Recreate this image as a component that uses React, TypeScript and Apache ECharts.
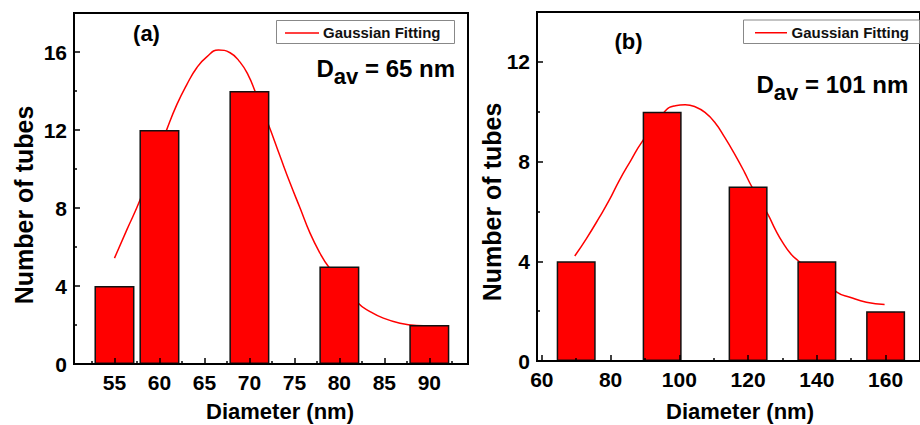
import React, { useEffect, useRef } from "react";
import * as echarts from "echarts";

// ---- Panel (a) ----
const aBarDiameter = [55, 60, 70, 80, 90];
const aBarCount = [4, 12, 14, 5, 2];
const aFitDiameter = [55, 56.37, 57.85, 60.81, 61.93, 63.04, 64.15, 65.26, 66.56, 67.85, 68.96, 69.89, 70.63, 72.11, 73.41, 74.52, 75.63, 76.74, 77.85, 78.78, 82.11, 83.41, 84.89, 86.74, 88.59, 90.07];
const aFitCount = [5.43, 6.88, 8.42, 12.02, 13.3, 14.33, 15.19, 15.75, 16.1, 15.96, 15.48, 14.79, 13.99, 12.28, 10.65, 9.28, 8.0, 6.71, 5.68, 5.0, 3.12, 2.69, 2.35, 2.09, 1.97, 1.95];
const aXMajor = [55, 60, 65, 70, 75, 80, 85, 90];
const aXMinor = [52.5, 57.5, 62.5, 67.5, 72.5, 77.5, 82.5, 87.5, 92.5];
const aYMajor = [0, 4, 8, 12, 16];
const aYMinor = [2, 6, 10, 14];

// ---- Panel (b) ----
const bBarDiameter = [70, 95, 120, 140, 160];
const bBarCount = [4, 10, 7, 4, 2];
const bFitDiameter = [69.58, 72.93, 76.77, 79.64, 82.52, 85.87, 89.04, 95.95, 98.83, 101.7, 104.58, 107.46, 110.34, 113.21, 116.09, 118.97, 120.89, 125.68, 128.08, 130.0, 132.4, 134.5, 145.8, 149.6, 154.4, 159.7];
const bFitCount = [4.21, 4.9, 5.77, 6.46, 7.24, 8.04, 8.77, 10.04, 10.24, 10.28, 10.2, 9.97, 9.57, 8.97, 8.3, 7.57, 7.04, 5.9, 5.23, 4.77, 4.3, 4.03, 2.76, 2.56, 2.36, 2.27];
const bXMajor = [60, 80, 100, 120, 140, 160];
const bXMinor = [70, 90, 110, 130, 150];
const bYMajor = [0, 4, 8, 12];
const bYMinor = [2, 6, 10];

const FONT = "'Liberation Sans', Arial, Helvetica, sans-serif";
const RED = "#ff0000";

function zip(xs: number[], ys: number[]) {
  return xs.map((x, i) => [x, ys[i]]);
}

function xAxes(gridIndex: number, min: number, max: number, major: number[], minor: number[]) {
  return [
    {
      type: "value", gridIndex, min, max, position: "bottom", z: 10,
      axisLine: { show: true, onZero: false, lineStyle: { color: "#000", width: 2 } },
      axisTick: { show: true, inside: true, length: 6, customValues: major, lineStyle: { color: "#000", width: 1.5 } },
      axisLabel: { show: true, customValues: major, margin: 8, fontSize: 21, fontWeight: "bold", color: "#000", fontFamily: FONT },
      splitLine: { show: false },
    },
    {
      type: "value", gridIndex, min, max, position: "bottom", z: 10,
      axisLine: { show: false, onZero: false },
      axisTick: { show: true, inside: true, length: 3, customValues: minor, lineStyle: { color: "#000", width: 1.5 } },
      axisLabel: { show: false },
      splitLine: { show: false },
    },
  ];
}

function yAxes(gridIndex: number, min: number, max: number, major: number[], minor: number[]) {
  return [
    {
      type: "value", gridIndex, min, max, position: "left", z: 10,
      axisLine: { show: true, onZero: false, lineStyle: { color: "#000", width: 2 } },
      axisTick: { show: true, inside: true, length: 6, customValues: major, lineStyle: { color: "#000", width: 1.5 } },
      axisLabel: { show: true, customValues: major, margin: 7, fontSize: 21, fontWeight: "bold", color: "#000", fontFamily: FONT },
      splitLine: { show: false },
    },
    {
      type: "value", gridIndex, min, max, position: "left", z: 10,
      axisLine: { show: false, onZero: false },
      axisTick: { show: true, inside: true, length: 3, customValues: minor, lineStyle: { color: "#000", width: 1.5 } },
      axisLabel: { show: false },
      splitLine: { show: false },
    },
  ];
}

function legendBox(x: number, y: number, w: number, h: number, lineX1: number, lineX2: number, textX: number) {
  return {
    type: "group",
    children: [
      { type: "rect", shape: { x, y, width: w, height: h }, style: { fill: "#fff", stroke: "#888", lineWidth: 1 }, z: 20 },
      { type: "line", shape: { x1: lineX1, y1: y + h / 2 + 1, x2: lineX2, y2: y + h / 2 + 1 }, style: { stroke: RED, lineWidth: 1.5 }, z: 21 },
      {
        type: "text", x: textX, y: y + h / 2 + 0.5, z: 21,
        style: { text: "Gaussian Fitting", fontSize: 15, fontWeight: "bold", fontFamily: FONT, fill: "#111", textAlign: "left", textVerticalAlign: "middle" },
      },
    ],
  };
}

function title(text: string, x: number, y: number, size: number, rotation = 0) {
  return {
    type: "text", x, y, rotation, z: 20,
    style: { text, fontSize: size, fontWeight: "bold", fontFamily: FONT, fill: "#000", textAlign: "center", textVerticalAlign: "middle" },
  };
}

function dav(value: string, x: number, y: number) {
  return {
    type: "text", x, y, z: 20,
    style: {
      text: `{m|D}{s|av}{m| = ${value} nm}`,
      textAlign: "left", textVerticalAlign: "middle",
      fill: "#000",
      rich: {
        m: { fontSize: 24, fontWeight: "bold", fontFamily: FONT, fill: "#000" },
        s: { fontSize: 22, fontWeight: "bold", fontFamily: FONT, fill: "#000", padding: [16, 0, 0, 0] },
      },
    },
  };
}

export default function App() {
  const ref = useRef<HTMLDivElement>(null);

  useEffect(() => {
    if (!ref.current) return;
    const chart = echarts.init(ref.current, undefined, { renderer: "svg" });
    const option: any = {
      animation: false,
      backgroundColor: "#fff",
      textStyle: { fontFamily: FONT },
      grid: [
        { left: 74, top: 13, width: 394, height: 351, show: true, borderColor: "#000", borderWidth: 2, backgroundColor: "transparent", containLabel: false },
        { left: 537, top: 12, width: 387, height: 349, show: true, borderColor: "#000", borderWidth: 2, backgroundColor: "transparent", containLabel: false },
      ],
      xAxis: [
        ...xAxes(0, 50.5, 94.3, aXMajor, aXMinor),
        ...xAxes(1, 58.6, 170, bXMajor, bXMinor),
      ],
      yAxis: [
        ...yAxes(0, 0, 18, aYMajor, aYMinor),
        ...yAxes(1, 0, 14, bYMajor, bYMinor),
      ],
      series: [
        {
          name: "Gaussian Fitting", type: "line", xAxisIndex: 0, yAxisIndex: 0, z: 1,
          data: zip(aFitDiameter, aFitCount), smooth: true, showSymbol: false, symbol: "none",
          lineStyle: { color: RED, width: 1.5 },
        },
        {
          name: "Counts (a)", type: "bar", xAxisIndex: 0, yAxisIndex: 0, z: 2,
          data: zip(aBarDiameter, aBarCount), barWidth: 40,
          itemStyle: { color: RED, borderColor: "#111", borderWidth: 1.5 },
        },
        {
          name: "Gaussian Fitting", type: "line", xAxisIndex: 2, yAxisIndex: 2, z: 1,
          data: zip(bFitDiameter, bFitCount), smooth: true, showSymbol: false, symbol: "none",
          lineStyle: { color: RED, width: 1.5 },
        },
        {
          name: "Counts (b)", type: "bar", xAxisIndex: 2, yAxisIndex: 2, z: 2,
          data: zip(bBarDiameter, bBarCount), barWidth: 39,
          itemStyle: { color: RED, borderColor: "#111", borderWidth: 1.5 },
        },
      ],
      graphic: [
        legendBox(276.5, 20.5, 178, 23, 285, 319, 323),
        legendBox(743.5, 20, 176, 23.5, 755, 787, 791.5),
        title("(a)", 146.5, 33, 22),
        title("(b)", 628.5, 41.5, 22),
        dav("65", 316.5, 68.5),
        dav("101", 756.5, 84),
        title("Diameter (nm)", 280, 411, 22),
        title("Diameter (nm)", 740, 411, 22),
        title("Number of tubes", 24, 205, 25, Math.PI / 2),
        title("Number of tubes", 492, 202, 25, Math.PI / 2),
      ],
    };
    chart.setOption(option);
    return () => chart.dispose();
  }, []);

  return <div ref={ref} style={{ position: "fixed", left: 0, top: 0, width: 920, height: 425 }} />;
}
